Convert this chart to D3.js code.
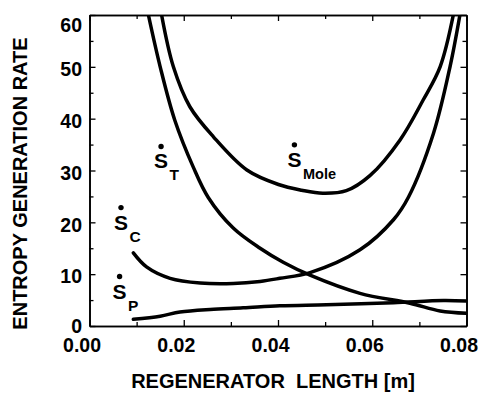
<!DOCTYPE html>
<html>
<head>
<meta charset="utf-8">
<script src="https://cdn.jsdelivr.net/npm/d3@7"></script>
<style>
  body { margin: 0; background: #fff; }
  text { font-family: "Liberation Sans", Arial, Helvetica, sans-serif; font-weight: bold; fill: #000; }
</style>
</head>
<body>
<div id="chart"></div>
<script>
// tick values
const xMajor = [0, 0.02, 0.04, 0.06, 0.08];
const xMinor = [0.01, 0.03, 0.05, 0.07];
const yMajor = [0, 10, 20, 30, 40, 50, 60];
const yMinor = [5, 15, 25, 35, 45, 55];

// curves (x in m, y = entropy generation rate)
const moleX = [0.0153, 0.0178, 0.0213, 0.0263, 0.0334, 0.0401, 0.0450, 0.0495, 0.0545, 0.0595, 0.0659, 0.0708, 0.0744, 0.0772];
const moleY = [60, 50.0, 42.3, 36.5, 30.1, 27.3, 26.2, 25.6, 26.1, 29.0, 35.9, 43.6, 50.0, 60];

const tX = [0.0125, 0.0150, 0.0181, 0.0220, 0.0252, 0.0305, 0.0362, 0.0411, 0.0468, 0.0574, 0.0680, 0.0744, 0.0800];
const tY = [60, 50.0, 39.7, 30.7, 24.8, 18.9, 15.0, 12.3, 9.8, 6.3, 4.4, 2.9, 2.45];

const cX = [0.0093, 0.0121, 0.0171, 0.0235, 0.0305, 0.0362, 0.0404, 0.0468, 0.0574, 0.0645, 0.0677, 0.0730, 0.0765, 0.0786];
const cY = [14.1, 11.4, 9.2, 8.3, 8.2, 8.6, 9.2, 10.3, 14.7, 20.5, 24.9, 37.2, 50.0, 60];

const pX = [0.0093, 0.0150, 0.0192, 0.0256, 0.0326, 0.0404, 0.0503, 0.0645, 0.0751, 0.0800];
const pY = [1.3, 1.9, 2.7, 3.2, 3.5, 3.9, 4.1, 4.5, 4.9, 4.8];

// curve labels: S with a dot, subscript, anchored at S baseline-left
const labelNames = ["T", "C", "P", "Mole"];
const labelX = [0.0137, 0.0052, 0.0049, 0.0420];
const labelY = [30.4, 18.6, 5.3, 30.7];

const width = 484, height = 395;
const margin = { top: 15, right: 17.5, bottom: 69, left: 89.5 };
const innerW = width - margin.left - margin.right;
const innerH = height - margin.top - margin.bottom;

const svg = d3.select("#chart")
  .append("svg")
  .attr("width", width)
  .attr("height", height);

svg.append("rect").attr("width", width).attr("height", height).attr("fill", "#fff");

const g = svg.append("g")
  .attr("transform", `translate(${margin.left},${margin.top})`);

const x = d3.scaleLinear().domain([0, 0.08]).range([0, innerW]);
const y = d3.scaleLinear().domain([0, 60]).range([innerH, 0]);

const tickFont = "19.5px";

// bottom axis with labels
const bottom = g.append("g")
  .attr("transform", `translate(0,${innerH})`)
  .call(d3.axisBottom(x).tickValues(xMajor).tickSizeInner(-6).tickSizeOuter(0)
    .tickPadding(12).tickFormat(d3.format(".2f")));
bottom.selectAll("text").attr("dx", -8).style("font-size", tickFont);

g.append("g")
  .attr("transform", `translate(0,${innerH})`)
  .call(d3.axisBottom(x).tickValues(xMinor).tickSizeInner(-4).tickSizeOuter(0).tickFormat(""));

// top axis, ticks only
g.append("g")
  .call(d3.axisTop(x).tickValues(xMajor).tickSizeInner(-6).tickSizeOuter(0).tickFormat(""));
g.append("g")
  .call(d3.axisTop(x).tickValues(xMinor).tickSizeInner(-4).tickSizeOuter(0).tickFormat(""));

// left axis with labels
const left = g.append("g")
  .call(d3.axisLeft(y).tickValues(yMajor).tickSizeInner(-6).tickSizeOuter(0).tickPadding(7.5));
left.selectAll("text")
  .style("font-size", tickFont)
  .attr("dy", d => d === 60 ? "0.85em" : d === 0 ? "0.32em" : "0.45em");

g.append("g")
  .call(d3.axisLeft(y).tickValues(yMinor).tickSizeInner(-4).tickSizeOuter(0).tickFormat(""));

// right axis, ticks only
g.append("g")
  .attr("transform", `translate(${innerW},0)`)
  .call(d3.axisRight(y).tickValues(yMajor).tickSizeInner(-6).tickSizeOuter(0).tickFormat(""));
g.append("g")
  .attr("transform", `translate(${innerW},0)`)
  .call(d3.axisRight(y).tickValues(yMinor).tickSizeInner(-4).tickSizeOuter(0).tickFormat(""));

g.selectAll(".domain").attr("stroke", "#000").attr("stroke-width", 1.6);
g.selectAll(".tick line").attr("stroke", "#000").attr("stroke-width", 1.3);

// curves
svg.append("clipPath").attr("id", "plotClip")
  .append("rect").attr("x", 0).attr("y", 0).attr("width", innerW).attr("height", innerH);

const line = d3.line()
  .x(d => x(d[0]))
  .y(d => y(d[1]))
  .curve(d3.curveCatmullRom.alpha(0.5));

const series = [
  d3.zip(moleX, moleY),
  d3.zip(tX, tY),
  d3.zip(cX, cY),
  d3.zip(pX, pY)
];

g.append("g")
  .attr("clip-path", "url(#plotClip)")
  .selectAll("path")
  .data(series)
  .join("path")
    .attr("d", line)
    .attr("fill", "none")
    .attr("stroke", "#000")
    .attr("stroke-width", 3.5)
    .attr("stroke-linecap", "round")
    .attr("stroke-linejoin", "round");

// labels
const labels = g.selectAll("g.lab")
  .data(labelNames.map((n, i) => ({ name: n, x: labelX[i], y: labelY[i] })))
  .join("g")
    .attr("class", "lab")
    .attr("transform", d => `translate(${x(d.x)},${y(d.y)})`);

labels.append("circle")
  .attr("cx", 7)
  .attr("cy", -22)
  .attr("r", 2.7)
  .attr("fill", "#000");

const lt = labels.append("text").style("font-size", "21px");
lt.append("tspan").text("S");
lt.append("tspan")
  .attr("dx", 1.5)
  .attr("dy", 12)
  .style("font-size", d => d.name === "Mole" ? "14.5px" : "15.5px")
  .text(d => d.name);

// axis titles
svg.append("text")
  .attr("x", 273)
  .attr("y", 388)
  .attr("text-anchor", "middle")
  .style("font-size", "20px")
  .attr("xml:space", "preserve")
  .text("REGENERATOR  LENGTH [m]");

svg.append("text")
  .attr("transform", "translate(26.5,183.5) rotate(-90)")
  .attr("text-anchor", "middle")
  .style("font-size", "20px")
  .text("ENTROPY GENERATION RATE");
</script>
</body>
</html>
